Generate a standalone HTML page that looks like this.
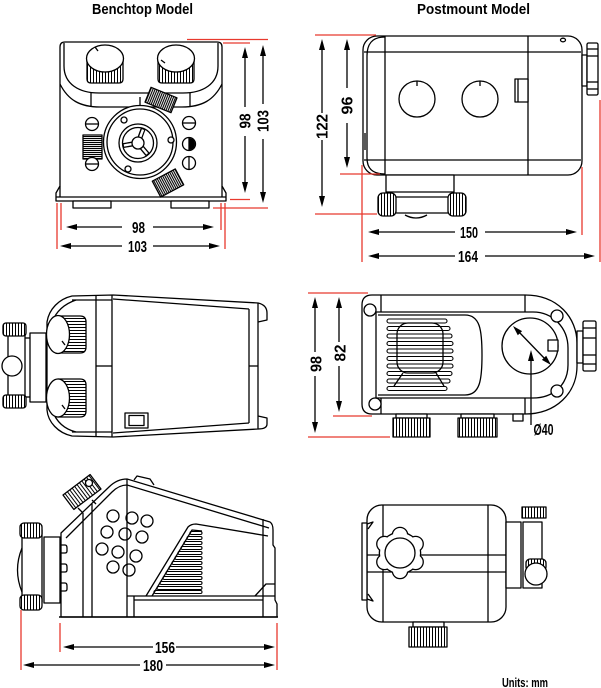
<!DOCTYPE html>
<html><head><meta charset="utf-8"><style>
html,body{margin:0;padding:0;background:#fff;}
svg{display:block;}
text{font-family:"Liberation Sans Narrow","Liberation Sans",sans-serif;font-weight:bold;fill:#000;stroke:none;}
</style></head><body>
<svg width="601" height="688" viewBox="0 0 601 688" xmlns="http://www.w3.org/2000/svg">
<defs>
<pattern id="kv" width="3" height="20" patternUnits="userSpaceOnUse"><rect width="3" height="20" fill="#fff"/><rect x="0" width="1" height="20" fill="#000"/></pattern>
<pattern id="kh" width="20" height="3" patternUnits="userSpaceOnUse"><rect width="20" height="3" fill="#fff"/><rect y="0" width="20" height="1" fill="#000"/></pattern>
<pattern id="kd" width="2" height="20" patternUnits="userSpaceOnUse"><rect width="2" height="20" fill="#fff"/><rect width="1.1" height="20" fill="#000"/></pattern>
<pattern id="kdh" width="20" height="2" patternUnits="userSpaceOnUse"><rect width="20" height="2" fill="#fff"/><rect width="20" height="1.1" fill="#000"/></pattern>
</defs>

<!-- Titles -->
<text x="142.5" y="14" font-size="15" text-anchor="middle" textLength="101" lengthAdjust="spacingAndGlyphs">Benchtop Model</text>
<text x="473.5" y="14" font-size="15" text-anchor="middle" textLength="113" lengthAdjust="spacingAndGlyphs">Postmount Model</text>

<g fill="none" stroke="#000" stroke-width="1.3" stroke-linejoin="round">

<!-- ========== BENCHTOP FRONT ========== -->
<path d="M56,201 L56,193 L60,186 L60,47 Q60,42 65,42 L217,42 Q222,42 222,47 L222,186 L226,193 L226,201 Z" fill="#fff"/>
<line x1="56" y1="197" x2="226" y2="197"/>
<line x1="60" y1="186" x2="60" y2="197"/>
<line x1="222" y1="186" x2="222" y2="197"/>
<path d="M64,43 L64,66 C64,84 79,93 99,93 L183,93 C203,93 218,84 218,66 L218,43"/>
<path d="M60,84 C68,100 80,107 100,107 L182,107 C202,107 214,100 222,84"/>
<line x1="91" y1="93" x2="91" y2="107"/>
<line x1="190" y1="93" x2="190" y2="107"/>
<line x1="140" y1="97" x2="140" y2="107"/>
<!-- knobs -->
<path d="M87,60 L87,79 Q87,83 91,83 L119,83 Q123,83 123,79 L123,60 Z" fill="url(#kv)"/>
<ellipse cx="105" cy="58.5" rx="18.5" ry="13.5" fill="#fff"/>
<line x1="95" y1="47" x2="98" y2="51"/>
<path d="M158,60 L158,79 Q158,83 162,83 L190,83 Q194,83 194,79 L194,60 Z" fill="url(#kv)"/>
<ellipse cx="176" cy="58.5" rx="18.5" ry="13.5" fill="#fff"/>
<line x1="161" y1="60" x2="165" y2="63"/>
<!-- central -->
<circle cx="140" cy="142" r="36.5" fill="#fff"/>
<circle cx="140" cy="142" r="33"/>
<circle cx="138" cy="143" r="19"/>
<circle cx="138" cy="143" r="15.5"/>
<g stroke-linecap="butt">
<line x1="138" y1="143" x2="143.3" y2="128.4" stroke-width="5"/>
<line x1="138" y1="143" x2="148" y2="154.9" stroke-width="5"/>
<line x1="138" y1="143" x2="122.7" y2="145.7" stroke-width="5"/>
<line x1="138" y1="143" x2="143" y2="129.6" stroke-width="2.4" stroke="#fff"/>
<line x1="138" y1="143" x2="147.2" y2="153.9" stroke-width="2.4" stroke="#fff"/>
<line x1="138" y1="143" x2="123.9" y2="145.5" stroke-width="2.4" stroke="#fff"/>
</g>
<circle cx="138" cy="143" r="6" fill="#fff"/>
<circle cx="124" cy="120" r="3" fill="#fff"/>
<circle cx="171" cy="140" r="3" fill="#fff"/>
<circle cx="128" cy="169" r="3" fill="#fff"/>
<!-- dark knurl blocks -->
<g transform="translate(161,100) rotate(22)"><rect x="-14" y="-8" width="28" height="16" fill="url(#kd)"/></g>
<rect x="83" y="135" width="19" height="24" fill="url(#kdh)"/>
<g transform="translate(168,183) rotate(-28)"><rect x="-13" y="-9" width="26" height="18" fill="url(#kd)"/></g>
<!-- screws -->
<circle cx="92" cy="124" r="6.5" fill="#fff"/><line x1="85.5" y1="124" x2="98.5" y2="124"/>
<circle cx="92" cy="164" r="6.5" fill="#fff"/><line x1="85.5" y1="164" x2="98.5" y2="164"/>
<circle cx="189" cy="123" r="6.5" fill="#fff"/><line x1="182.5" y1="123" x2="195.5" y2="123"/>
<circle cx="189" cy="144" r="6.5" fill="#fff"/><line x1="189" y1="137.5" x2="189" y2="150.5"/><path d="M189,138 A6,6 0 0 1 189,150 Z" fill="#000" stroke="none"/>
<circle cx="189" cy="163" r="6.5" fill="#fff"/><line x1="189" y1="156.5" x2="189" y2="169.5"/>
<!-- feet -->
<rect x="73" y="201" width="38" height="7" fill="#fff"/>
<rect x="171" y="201" width="38" height="7" fill="#fff"/>

<!-- ========== POSTMOUNT FRONT ========== -->
<rect x="363" y="36" width="219" height="139" rx="14" fill="#fff"/>
<path d="M385,37 C372,37 367,44 367,56 L367,158 C367,169 373,174 385,174"/>
<line x1="385" y1="36" x2="385" y2="175"/>
<line x1="528" y1="36" x2="528" y2="175"/>
<line x1="364" y1="52" x2="581" y2="52"/>
<line x1="364" y1="160" x2="581" y2="160"/>
<line x1="365" y1="133" x2="365" y2="150"/>
<circle cx="417" cy="99" r="18"/>
<circle cx="480" cy="99" r="18"/>
<line x1="417" y1="81" x2="417" y2="86"/>
<line x1="480" y1="81" x2="480" y2="86"/>
<rect x="515" y="79" width="13" height="23" fill="#fff"/>
<line x1="518" y1="79" x2="518" y2="102"/>
<ellipse cx="563" cy="40" rx="2.5" ry="1.8"/>
<rect x="582" y="55" width="5" height="31" fill="#fff"/>
<rect x="587" y="43" width="11" height="52" rx="1.5" fill="#fff"/>
<line x1="587" y1="49" x2="598" y2="49"/>
<line x1="587" y1="56" x2="598" y2="56"/>
<line x1="587" y1="82" x2="598" y2="82"/>
<line x1="587" y1="89" x2="598" y2="89"/>
<rect x="386" y="175" width="68" height="17" fill="#fff"/>
<line x1="396" y1="197" x2="448" y2="197"/>
<line x1="396" y1="213" x2="448" y2="213"/>
<path d="M405,215 Q416,221 427,215"/>
<rect x="378" y="193" width="18" height="23" rx="5" fill="url(#kv)"/>
<rect x="448" y="193" width="18" height="23" rx="5" fill="url(#kv)"/>

<!-- ========== BENCHTOP TOP VIEW ========== -->
<path d="M72,296 L113,295 L258,303 L258,429 L113,437 L72,436 C58,433 48,422 47,410 L47,322 C49,309 59,299 72,296 Z" fill="#fff"/>
<path d="M258,303 Q267,305 267,313 L267,320 L258,322"/>
<path d="M258,416 L267,418 L267,424 Q267,429 258,429"/>
<path d="M113,299 L249,309"/>
<path d="M113,433 L249,423"/>
<line x1="249" y1="309" x2="249" y2="423"/>
<line x1="249" y1="366" x2="258" y2="366"/>
<line x1="96" y1="296" x2="96" y2="436"/>
<line x1="112" y1="295" x2="112" y2="437"/>
<line x1="96" y1="366" x2="112" y2="366"/>
<line x1="72" y1="300" x2="112" y2="300"/>
<line x1="72" y1="432" x2="112" y2="432"/>
<path d="M76,300 C64,304 56,312 52,322"/>
<path d="M52,410 C56,421 64,429 76,432"/>
<!-- knobs -->
<path d="M58,316 L80,316 Q86,316 86,322 L86,347 Q86,353 80,353 L58,353 Z" fill="url(#kh)"/>
<ellipse cx="58" cy="334.5" rx="11.5" ry="19" fill="#fff"/>
<line x1="62" y1="341" x2="65" y2="345"/>
<path d="M58,379 L80,379 Q86,379 86,385 L86,411 Q86,417 80,417 L58,417 Z" fill="url(#kh)"/>
<ellipse cx="58" cy="398" rx="11.5" ry="19" fill="#fff"/>
<line x1="62" y1="405" x2="65" y2="409"/>
<!-- post -->
<rect x="30" y="333" width="16" height="69" fill="#fff"/>
<line x1="8" y1="335" x2="8" y2="396"/>
<line x1="25" y1="335" x2="25" y2="396"/>
<line x1="25" y1="338" x2="30" y2="338"/>
<line x1="25" y1="397" x2="30" y2="397"/>
<rect x="3" y="323" width="23" height="13" rx="3" fill="url(#kv)"/>
<rect x="3" y="395" width="23" height="13" rx="3" fill="url(#kv)"/>
<circle cx="12" cy="366" r="10" fill="#fff"/>
<rect x="125" y="413" width="23" height="15" fill="#fff"/>
<rect x="129" y="415.5" width="15" height="10"/>

<!-- ========== POSTMOUNT TOP VIEW ========== -->
<path d="M372,295 L525,295 C558,295 577,318 577,343 L577,366 C577,393 556,414 525,414 L372,414 Q362,414 362,404 L362,305 Q362,295 372,295 Z" fill="#fff"/>
<path d="M376,312 L533,312 C553,312 568,328 568,348 L568,365 C568,385 553,398 533,398 L376,398"/>
<line x1="376" y1="312" x2="376" y2="398"/>
<line x1="381" y1="295" x2="381" y2="312"/>
<line x1="381" y1="398" x2="381" y2="414"/>
<line x1="525" y1="295" x2="525" y2="312"/>
<line x1="525" y1="398" x2="525" y2="414"/>
<path d="M378,315 L465,315 C480,315 482,330 482,355 C482,380 480,395 465,395 L378,395"/>
<g stroke-width="1.1">
<rect x="387" y="319" width="60" height="4" rx="2"/>
<rect x="387" y="326.5" width="63" height="4" rx="2"/>
<rect x="387" y="334" width="65" height="4" rx="2"/>
<rect x="387" y="341.5" width="66" height="4" rx="2"/>
<rect x="387" y="349" width="66" height="4" rx="2"/>
<rect x="387" y="356.5" width="66" height="4" rx="2"/>
<rect x="387" y="364" width="66" height="4" rx="2"/>
<rect x="387" y="371.5" width="65" height="4" rx="2"/>
<rect x="387" y="379" width="63" height="4" rx="2"/>
<rect x="387" y="386.5" width="60" height="4" rx="2"/>
</g>
<rect x="397" y="323" width="46" height="50" rx="11"/>
<line x1="403" y1="373" x2="394" y2="386"/>
<line x1="436" y1="373" x2="444" y2="386"/>
<circle cx="530" cy="346" r="28" fill="#fff"/>
<line x1="518" y1="331" x2="546" y2="360"/>
<rect x="548" y="340" width="10" height="11" fill="#fff"/>
<circle cx="370" cy="310" r="6" fill="#fff"/>
<circle cx="375" cy="404" r="6" fill="#fff"/>
<circle cx="557" cy="316" r="6" fill="#fff"/>
<circle cx="557" cy="391" r="6" fill="#fff"/>
<rect x="577" y="331" width="6" height="32" fill="#fff"/>
<rect x="583" y="321" width="13" height="50" rx="1.5" fill="#fff"/>
<line x1="583" y1="328" x2="596" y2="328"/>
<line x1="583" y1="338" x2="596" y2="338"/>
<line x1="583" y1="355" x2="596" y2="355"/>
<line x1="583" y1="364" x2="596" y2="364"/>
<rect x="396" y="414" width="31" height="4" fill="#fff"/>
<rect x="393" y="418" width="37" height="19" fill="url(#kv)"/>
<rect x="461" y="414" width="33" height="4" fill="#fff"/>
<rect x="458" y="418" width="39" height="19" fill="url(#kv)"/>
<rect x="513" y="414" width="10" height="7" fill="#fff"/>
<line x1="531" y1="358" x2="531" y2="425"/>

<!-- ========== BENCHTOP SIDE VIEW ========== -->
<path d="M61,617 L61,533 L109,487 Q117,479 127,479 L270,522 Q273,524 273,530 L273,545 L275,548 L275,600 L277,604 L277,617 Z" fill="#fff"/>
<path d="M66,538 L112,492 Q119,485 127,485 L269,528"/>
<line x1="59" y1="617" x2="278" y2="617" stroke-width="1.6"/>
<line x1="83" y1="513" x2="83" y2="617"/>
<line x1="92" y1="504" x2="92" y2="617"/>
<line x1="127" y1="479" x2="127" y2="617"/>
<line x1="134" y1="596" x2="134" y2="617"/>
<line x1="263" y1="519" x2="263" y2="617"/>
<line x1="127" y1="596" x2="275" y2="596"/>
<line x1="134" y1="600" x2="263" y2="600"/>
<path d="M255,596 L266,584 L275,584"/>
<path d="M146,596 L188,527 Q191,524 196,524 L268,536"/>
<path d="M152,596 L192,530 L202,531"/>
<g stroke-width="1.1">
<rect x="190" y="531.5" width="12" height="3" rx="1.5"/>
<rect x="187" y="536.5" width="15" height="3" rx="1.5"/>
<rect x="184" y="541.5" width="18" height="3" rx="1.5"/>
<rect x="181" y="546.5" width="21" height="3" rx="1.5"/>
<rect x="178" y="551.5" width="24" height="3" rx="1.5"/>
<rect x="175" y="556.5" width="27" height="3" rx="1.5"/>
<rect x="172" y="561.5" width="30" height="3" rx="1.5"/>
<rect x="169" y="566.5" width="33" height="3" rx="1.5"/>
<rect x="166" y="571.5" width="36" height="3" rx="1.5"/>
<rect x="163" y="576.5" width="39" height="3" rx="1.5"/>
<rect x="160" y="581.5" width="42" height="3" rx="1.5"/>
<rect x="157" y="586.5" width="45" height="3" rx="1.5"/>
<rect x="154" y="590.5" width="48" height="3" rx="1.5"/>
</g>
<circle cx="113" cy="516" r="6"/>
<circle cx="132" cy="518" r="6"/>
<circle cx="147" cy="521" r="6"/>
<circle cx="107" cy="532" r="6"/>
<circle cx="125" cy="534" r="6"/>
<circle cx="142" cy="537" r="6"/>
<circle cx="102" cy="549" r="6"/>
<circle cx="118" cy="552" r="6"/>
<circle cx="136" cy="556" r="6"/>
<circle cx="113" cy="567" r="6"/>
<circle cx="129" cy="570" r="6"/>
<path d="M61,545 L65,545 Q67,545 67,548 L67,551 Q67,553 65,553 L61,553"/>
<path d="M61,564 L65,564 Q67,564 67,567 L67,570 Q67,572 65,572 L61,572"/>
<path d="M61,583 L65,583 Q67,583 67,586 L67,589 Q67,591 65,591 L61,591"/>
<path d="M134,480 L137,476 L150,479 L154,485"/>
<g transform="translate(82,492) rotate(-37)"><rect x="-17" y="-9" width="34" height="18" fill="url(#kv)"/><circle cx="11" cy="-3" r="3.5" fill="#fff"/></g>
<line x1="78" y1="508" x2="83" y2="513"/>
<line x1="92" y1="500" x2="96" y2="504"/>
<rect x="44" y="537" width="16" height="66" fill="#fff"/>
<rect x="22" y="530" width="20" height="72" fill="#fff"/>
<rect x="20" y="523" width="22" height="15" rx="4" fill="url(#kv)"/>
<rect x="20" y="595" width="22" height="15" rx="4" fill="url(#kv)"/>
<path d="M22,548 Q13,570 22,592"/>

<!-- ========== POSTMOUNT SIDE VIEW ========== -->
<rect x="367" y="505" width="139" height="117" rx="15" fill="#fff"/>
<line x1="383" y1="505" x2="383" y2="622"/>
<line x1="488" y1="505" x2="488" y2="622"/>
<line x1="367" y1="555" x2="506" y2="555"/>
<line x1="367" y1="572" x2="506" y2="572"/>
<rect x="362" y="523" width="5" height="77" fill="#fff"/>
<path d="M367,524 L373,522 L368,529"/>
<path d="M367,599 L373,601 L368,594"/>
<g stroke-width="2.6">
<circle cx="400" cy="553" r="20"/>
<circle cx="400" cy="535" r="7"/><circle cx="415.6" cy="544" r="7"/><circle cx="415.6" cy="562" r="7"/>
<circle cx="400" cy="571" r="7"/><circle cx="384.4" cy="562" r="7"/><circle cx="384.4" cy="544" r="7"/>
</g>
<g stroke="none" fill="#fff">
<circle cx="400" cy="553" r="20"/>
<circle cx="400" cy="535" r="7"/><circle cx="415.6" cy="544" r="7"/><circle cx="415.6" cy="562" r="7"/>
<circle cx="400" cy="571" r="7"/><circle cx="384.4" cy="562" r="7"/><circle cx="384.4" cy="544" r="7"/>
</g>
<circle cx="400" cy="553" r="15" fill="#fff"/>
<rect x="506" y="522" width="15" height="66" fill="#fff"/>
<rect x="523" y="522" width="19" height="66" fill="#fff"/>
<rect x="522" y="507" width="24" height="11" fill="url(#kv)"/>
<rect x="526" y="559" width="20" height="12" rx="4" fill="url(#kv)"/>
<circle cx="536" cy="574" r="11" fill="#fff"/>
<rect x="413" y="622" width="31" height="5" fill="#fff"/>
<rect x="409" y="627" width="38" height="20" fill="url(#kv)"/>

<!-- ========== DIMENSION LINES (black) ========== -->
<path d="M76,227 H122 M153,227 H204 M70,246 H122 M153,246 H210 M245,57 V107 M245,136 V183 M263,55 V104 M263,139 V193"/>
<path d="M322,49 V113 M322,140 V197 M347,49 V88 M347,123 V158 M378,232 H455 M485,232 H567 M378,256 H455 M485,256 H585"/>
<path d="M315,307 V352 M315,376 V423 M339,307 V342 M339,366 V402"/>
<path d="M73,647 H153 M176,647 H265 M33,665 H140 M166,665 H265"/>
</g>

<!-- arrowheads -->
<g fill="#000">
<polygon points="66,227 77,224 77,230"/><polygon points="214,227 203,224 203,230"/>
<polygon points="60,246 71,243 71,249"/><polygon points="220,246 209,243 209,249"/>
<polygon points="245,47 242,58 248,58"/><polygon points="245,193 242,182 248,182"/>
<polygon points="263,45 260,56 266,56"/><polygon points="263,203 260,192 266,192"/>
<polygon points="322,39 319,50 325,50"/><polygon points="322,207 319,196 325,196"/>
<polygon points="347,39 344,50 350,50"/><polygon points="347,168 344,157 350,157"/>
<polygon points="368,232 379,229 379,235"/><polygon points="577,232 566,229 566,235"/>
<polygon points="368,256 379,253 379,259"/><polygon points="595,256 584,253 584,259"/>
<polygon points="315,297 312,308 318,308"/><polygon points="315,433 312,422 318,422"/>
<polygon points="339,297 336,308 342,308"/><polygon points="339,412 336,401 342,401"/>
<polygon points="63,647 74,644 74,650"/><polygon points="275,647 264,644 264,650"/>
<polygon points="23,665 34,662 34,668"/><polygon points="275,665 264,662 264,668"/>
<polygon points="513,326 517.8,335.3 522.1,331.1"/><polygon points="551,365 541.9,359.9 546.2,355.8"/>
<polygon points="531,350 528,361 534,361"/>
</g>

<!-- red extension lines -->
<g stroke="#e8392e" stroke-width="1.3" fill="none">
<path d="M187,39.5 H268 M223,43 H250 M230,199.5 H250 M213,208 H268 M57,203 V249 M61,203 V230 M221,203 V230 M225,203 V249"/>
<path d="M315,35 H376 M340,174 H380 M315,214 H377 M362,165 V262 M582,167 V235 M600,100 V262"/>
<path d="M308,293 H368 M333,416 H372 M308,437 H390"/>
<path d="M60,623 V652 M277,623 V670 M21,610 V670"/>
</g>

<!-- labels -->
<g font-size="16">
<text x="138.5" y="233" text-anchor="middle" textLength="13" lengthAdjust="spacingAndGlyphs">98</text>
<text x="137.5" y="252" text-anchor="middle" textLength="19" lengthAdjust="spacingAndGlyphs">103</text>
<text transform="translate(250.5,121) rotate(-90)" text-anchor="middle" textLength="15" lengthAdjust="spacingAndGlyphs">98</text>
<text transform="translate(268.5,121) rotate(-90)" text-anchor="middle" textLength="22" lengthAdjust="spacingAndGlyphs">103</text>
<text transform="translate(327.5,126.5) rotate(-90)" text-anchor="middle" textLength="25" lengthAdjust="spacingAndGlyphs">122</text>
<text transform="translate(352.5,105.5) rotate(-90)" text-anchor="middle" textLength="18" lengthAdjust="spacingAndGlyphs">96</text>
<text x="469" y="238" text-anchor="middle" textLength="18" lengthAdjust="spacingAndGlyphs">150</text>
<text x="468" y="262" text-anchor="middle" textLength="20" lengthAdjust="spacingAndGlyphs">164</text>
<text transform="translate(321.5,364) rotate(-90)" text-anchor="middle" textLength="16" lengthAdjust="spacingAndGlyphs">98</text>
<text transform="translate(345.5,353) rotate(-90)" text-anchor="middle" textLength="17" lengthAdjust="spacingAndGlyphs">82</text>
<text x="165" y="653" text-anchor="middle" textLength="20" lengthAdjust="spacingAndGlyphs">156</text>
<text x="153" y="671" text-anchor="middle" textLength="20" lengthAdjust="spacingAndGlyphs">180</text>
<text x="543.5" y="435" text-anchor="middle" textLength="20" lengthAdjust="spacingAndGlyphs">Ø40</text>
</g>
<text x="525" y="687" font-size="12.5" text-anchor="middle" textLength="46" lengthAdjust="spacingAndGlyphs">Units: mm</text>
</svg>
</body></html>
